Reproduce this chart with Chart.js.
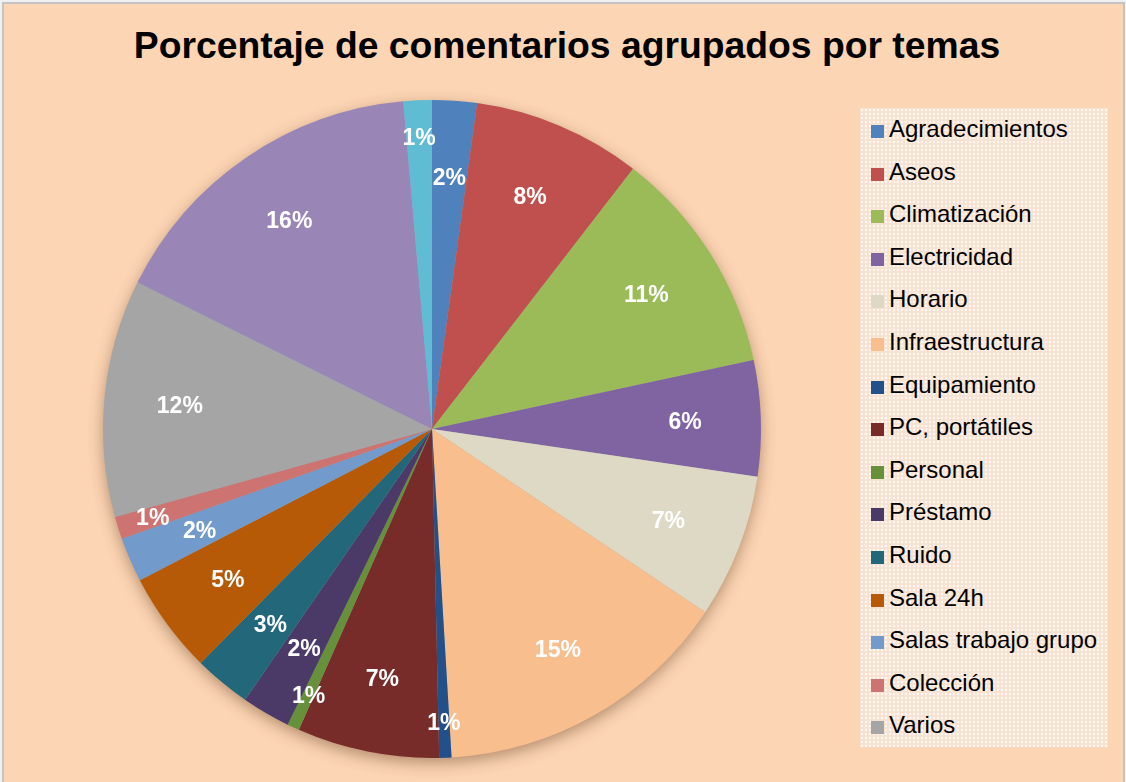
<!DOCTYPE html>
<html lang="es">
<head>
<meta charset="utf-8">
<title>Porcentaje de comentarios agrupados por temas</title>
<script src="https://cdn.jsdelivr.net/npm/chart.js@4/dist/chart.umd.min.js"></script>
<style>
    html, body { margin: 0; padding: 0; }
    body {
        width: 1126px;
        height: 782px;
        overflow: hidden;
        background: #f0f0f0;
        font-family: "Liberation Sans", Arial, sans-serif;
    }
    #marco {
        position: absolute;
        left: 2px;
        top: 2px;
        width: 1119px;
        height: 790px;
        background: #fcd5b5;
        border: 2px solid #c4c4c4;
    }
    #titulo {
        position: absolute;
        left: 4px;
        top: 23px;
        width: 1126px;
        text-align: center;
        font-weight: bold;
        font-size: 37.3px;
        line-height: 44px;
        color: #000;
    }
    #contenedor {
        position: absolute;
        left: 0;
        top: 0;
        width: 1126px;
        height: 782px;
    }
    #leyenda {
        position: absolute;
        left: 860px;
        top: 108px;
        width: 248px;
        height: 639px;
        margin: 0;
        padding: 0;
        list-style: none;
        background-color: #f8e2d2;
        background-image:
            radial-gradient(circle, rgba(255,255,255,0.75) 0.8px, transparent 1.2px);
        background-size: 4px 4px;
    }
    #leyenda li {
        height: 42.6px;
        line-height: 42.6px;
        font-size: 24px;
        color: #000;
        white-space: nowrap;
    }
    #leyenda li span {
        display: inline-block;
        width: 13px;
        height: 13px;
        margin: 0 5px 0 11px;
        vertical-align: -1px;
    }
</style>
</head>
<body>
<div id="marco"></div>
<div id="titulo">Porcentaje de comentarios agrupados por temas</div>
<div id="contenedor"><canvas id="chartTemas"></canvas></div>
<ul id="leyenda"></ul>

<script>
// Temas en el orden del gráfico (sentido horario desde arriba)
const temas = [
    'Agradecimientos', 'Aseos', 'Climatización', 'Electricidad', 'Horario',
    'Infraestructura', 'Equipamiento', 'PC, portátiles', 'Personal', 'Préstamo',
    'Ruido', 'Sala 24h', 'Salas trabajo grupo', 'Colección', 'Varios',
    'Otros', 'Sin tema'
];

// Porcentaje de comentarios de cada tema
const porcentajes = [
    2.2, 8.3, 11.2, 5.7, 7.1,
    14.7, 0.6, 7.0, 0.6, 2.4,
    2.8, 5.0, 2.2, 1.1, 11.7,
    16.3, 1.4
];

const colores = [
    '#4f81bd', '#c0504d', '#9bbb59', '#8064a2', '#ddd9c4',
    '#f9be8e', '#22508a', '#772c2a', '#66903a', '#4b3a68',
    '#22687a', '#b65a08', '#729aca', '#cd7371', '#a5a5a5',
    '#9a85b7', '#5fbcd3'
];

// Solo los primeros 15 temas aparecen en la leyenda
const temasEnLeyenda = 15;

const total = porcentajes.reduce((a, b) => a + b, 0);

// Sombra suave bajo el círculo
const sombraPastel = {
    id: 'sombraPastel',
    beforeDatasetsDraw(chart) {
        const arc = chart.getDatasetMeta(0).data[0];
        if (!arc) return;
        const ctx = chart.ctx;
        ctx.save();
        ctx.shadowColor = 'rgba(80, 40, 10, 0.45)';
        ctx.shadowBlur = 16;
        ctx.shadowOffsetX = 0;
        ctx.shadowOffsetY = 5;
        ctx.fillStyle = '#a5a5a5';
        ctx.beginPath();
        ctx.arc(arc.x, arc.y, arc.outerRadius - 1, 0, Math.PI * 2);
        ctx.fill();
        ctx.restore();
    }
};

// Etiquetas de porcentaje dentro de cada porción
const etiquetasPorcentaje = {
    id: 'etiquetasPorcentaje',
    afterDatasetsDraw(chart) {
        const ctx = chart.ctx;
        const meta = chart.getDatasetMeta(0);
        ctx.save();
        ctx.font = 'bold 23px "Liberation Sans", Arial, sans-serif';
        ctx.fillStyle = '#ffffff';
        ctx.textAlign = 'center';
        ctx.textBaseline = 'middle';
        meta.data.forEach((arc, i) => {
            const pct = porcentajes[i] / total * 100;
            const medio = (arc.startAngle + arc.endAngle) / 2;
            const factor = pct < 1.5 ? 0.89 : 0.77;
            const x = arc.x + Math.cos(medio) * arc.outerRadius * factor;
            const y = arc.y + Math.sin(medio) * arc.outerRadius * factor + 2;
            ctx.fillText(Math.round(pct) + '%', x, y);
        });
        ctx.restore();
    }
};

const ctxTemas = document.getElementById('chartTemas').getContext('2d');
const grafico = new Chart(ctxTemas, {
    type: 'pie',
    data: {
        labels: temas,
        datasets: [{
            data: porcentajes,
            backgroundColor: colores,
            borderWidth: 0,
            hoverOffset: 0
        }]
    },
    options: {
        responsive: true,
        maintainAspectRatio: false,
        animation: false,
        layout: {
            padding: { left: 103, right: 365, top: 100, bottom: 24 }
        },
        plugins: {
            legend: { display: false },
            title: { display: false },
            tooltip: {
                callbacks: {
                    label: function(context) {
                        return ` ${Math.round(context.raw / total * 100)}%`;
                    }
                }
            }
        }
    },
    plugins: [sombraPastel, etiquetasPorcentaje]
});

// Leyenda a partir de las etiquetas del propio gráfico
function poblarLeyenda(chart) {
    const ul = document.getElementById('leyenda');
    ul.innerHTML = '';
    const items = Chart.overrides.pie.plugins.legend.labels.generateLabels(chart);
    items.slice(0, temasEnLeyenda).forEach(item => {
        const li = document.createElement('li');
        const cuadro = document.createElement('span');
        cuadro.style.background = item.fillStyle;
        li.appendChild(cuadro);
        li.appendChild(document.createTextNode(item.text));
        ul.appendChild(li);
    });
}

poblarLeyenda(grafico);
</script>
</body>
</html>
